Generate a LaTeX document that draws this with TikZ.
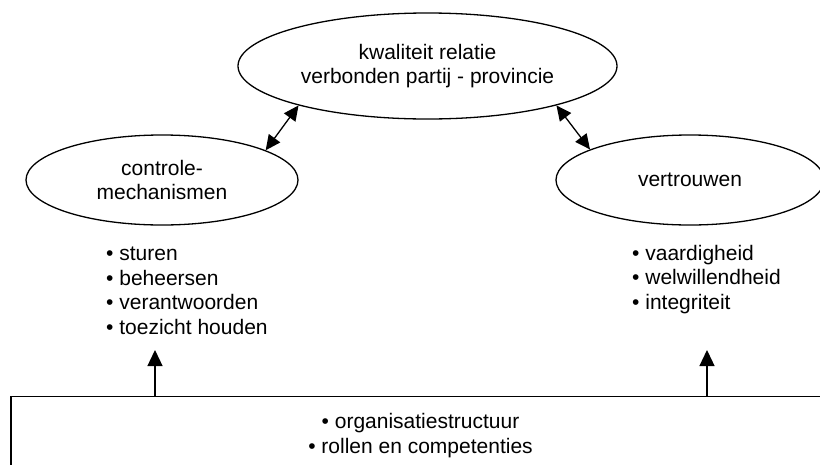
\documentclass[tikz,border=0pt]{standalone}
\usepackage{fontspec}
\setmainfont{Liberation Sans}
\usetikzlibrary{shapes.geometric,arrows.meta}
\begin{document}
\begin{tikzpicture}[x=1pt,y=-1pt,
  every node/.style={font=\fontsize{21}{24.5}\selectfont},
  oval/.style={draw,ellipse,line width=1.3pt,inner sep=0pt,align=center},
  listtext/.style={anchor=base west,inner sep=0pt,align=left},
  conn/.style={line width=1.3pt,-{Triangle[length=16pt,width=15pt]}},
  dconn/.style={line width=1.3pt,{Triangle[length=15pt,width=14pt]}-{Triangle[length=15pt,width=14pt]}}]
\useasboundingbox (0,0) rectangle (820,464);
\node[oval,minimum width=379pt,minimum height=106pt] (top) at (427.5,66) {kwaliteit relatie\\verbonden partij - provincie};
\node[oval,minimum width=272pt,minimum height=90pt] (ctrl) at (162,180) {controle-\\mechanismen};
\node[oval,minimum width=268pt,minimum height=90pt] (vert) at (690,180) {vertrouwen};
\draw[dconn] (ctrl.16) -- (top.197);
\draw[dconn] (vert.163) -- (top.343);
\node[listtext] (lstL) at (106,334) {\textbullet\ sturen\\\textbullet\ beheersen\\\textbullet\ verantwoorden\\\textbullet\ toezicht houden};
\node[listtext] (lstR) at (632,309) {\textbullet\ vaardigheid\\\textbullet\ welwillendheid\\\textbullet\ integriteit};
\node[draw,line width=1.3pt,anchor=north,minimum width=819pt,inner xsep=0pt,inner ysep=17pt,align=center] (base) at (420.5,396) {\textbullet\ organisatiestructuur\\\textbullet\ rollen en competenties};
\coordinate (tipL) at (155,350);
\coordinate (tipR) at (707,350);
\draw[conn] (base.north -| tipL) -- (tipL);
\draw[conn] (base.north -| tipR) -- (tipR);
\end{tikzpicture}
\end{document}
